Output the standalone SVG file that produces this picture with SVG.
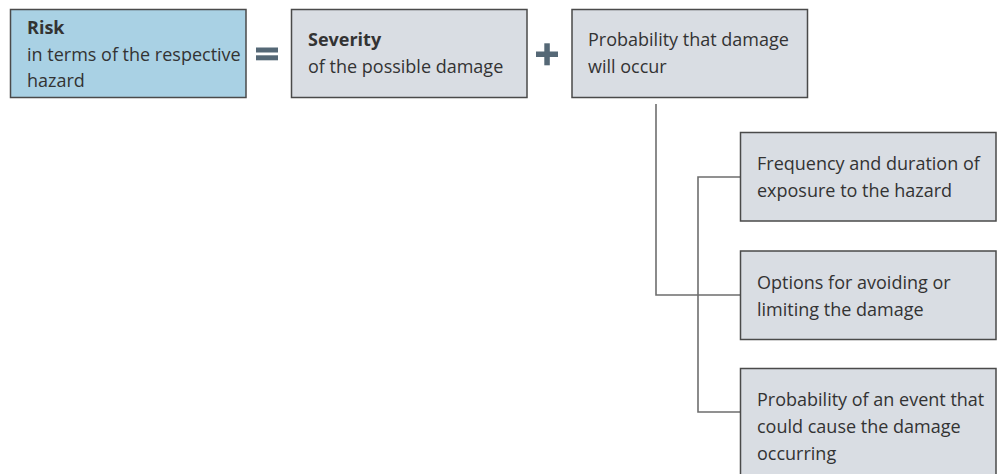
<svg xmlns="http://www.w3.org/2000/svg" width="1004" height="474" viewBox="0 0 1004 474">
  <style>
    .box { stroke: #4a4a4a; stroke-width: 1.5; }
    .risk { fill: #a9d1e4; }
    .grey { fill: #d9dde3; }
    .t { font-family: "Open Sans", "Noto Sans", sans-serif; font-size: 18px; fill: #333333; }
    .b { font-weight: bold; }
    .op { fill: #556876; }
    .link { fill: none; stroke: #6e6e6e; stroke-width: 1.6; }
  </style>
  <rect width="1004" height="474" fill="#ffffff"/>

  <!-- connectors -->
  <g id="connectors">
    <path class="link" d="M656 104 V295 H740"/>
    <path class="link" d="M740 177 H698 V412 H740"/>
  </g>

  <!-- operators -->
  <g id="equals">
    <rect class="op" x="256" y="47.5" width="22" height="5"/>
    <rect class="op" x="256" y="55.3" width="22" height="5"/>
  </g>
  <g id="plus">
    <rect class="op" x="536" y="51.5" width="22" height="5.5"/>
    <rect class="op" x="544.3" y="43.3" width="5.5" height="22"/>
  </g>

  <g id="risk">
    <rect class="box risk" x="10.5" y="9.5" width="235.5" height="88"/>
    <text class="t b" x="27" y="34">Risk</text>
    <text class="t" x="27" y="61">in terms of the respective</text>
    <text class="t" x="27" y="87">hazard</text>
  </g>

  <g id="severity">
    <rect class="box grey" x="291.5" y="9.5" width="235.5" height="88"/>
    <text class="t b" x="308" y="46">Severity</text>
    <text class="t" x="308" y="73">of the possible damage</text>
  </g>

  <g id="probability">
    <rect class="box grey" x="572" y="9.5" width="235.5" height="88"/>
    <text class="t" x="588" y="46">Probability that damage</text>
    <text class="t" x="588" y="73">will occur</text>
  </g>

  <g id="frequency">
    <rect class="box grey" x="740.5" y="132.5" width="255.5" height="88.5"/>
    <text class="t" x="757" y="170">Frequency and duration of</text>
    <text class="t" x="757" y="197">exposure to the hazard</text>
  </g>

  <g id="options">
    <rect class="box grey" x="740.5" y="251" width="255.5" height="88.5"/>
    <text class="t" x="757" y="289">Options for avoiding or</text>
    <text class="t" x="757" y="316">limiting the damage</text>
  </g>

  <g id="event">
    <rect class="box grey" x="740.5" y="368.5" width="255.5" height="120"/>
    <text class="t" x="757" y="406">Probability of an event that</text>
    <text class="t" x="757" y="433">could cause the damage</text>
    <text class="t" x="757" y="460">occurring</text>
  </g>
</svg>
